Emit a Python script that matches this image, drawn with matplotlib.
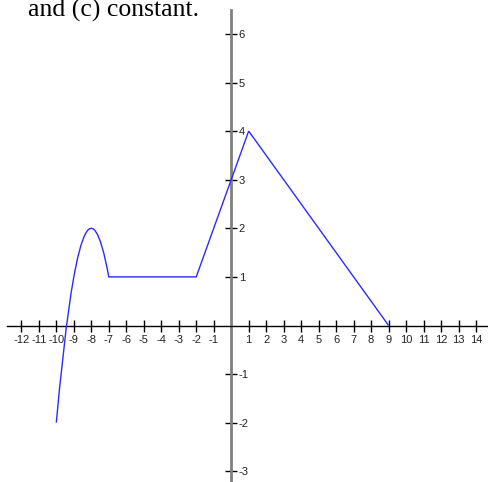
import matplotlib
matplotlib.use("Agg")
import matplotlib.pyplot as plt
from matplotlib.path import Path
from matplotlib.patches import PathPatch

## data

x_ticks = [t for t in range(-12, 15) if t != 0]
y_ticks = [t for t in range(-3, 7) if t != 0]

# piecewise graph: parabolic hump, flat step, then two straight pieces
hump_start = (-10, -2)
hump_ctrl = (-8.5, 4)      # quadratic control point, peak lands on (-8, 2)
hump_end = (-7, 1)
corners = [(-2, 1), (1, 4), (9, 0)]

caption = "and (c) constant."

## figure

W, H = 489, 482
fig = plt.figure(figsize=(W / 100, H / 100), dpi=100)
ax = fig.add_axes([0, 0, 1, 1])
ax.set_facecolor("white")

# pixel scale of the grid
x0_px, x_unit = 231.2, 17.49
y0_px, y_unit = 325.5, 48.6
ax.set_xlim(-x0_px / x_unit, (W - x0_px) / x_unit)
ax.set_ylim(-(H - y0_px) / y_unit, y0_px / y_unit)

# axes through the origin
for s in ["left", "top"]:
    ax.spines[s].set_visible(False)
ax.spines["bottom"].set_position(("data", 0))
ax.spines["bottom"].set_bounds(-12.8, 14.6)
ax.spines["bottom"].set_linewidth(1.0)
ax.spines["bottom"].set_color("black")
ax.spines["right"].set_position(("data", 0))
ax.spines["right"].set_bounds(-3.2, 6.5)
ax.spines["right"].set_linewidth(2.0)
ax.spines["right"].set_color("#808080")
ax.yaxis.tick_right()

lab = {"family": "Liberation Sans", "size": 8}
ax.set_xticks(x_ticks)
ax.set_xticklabels([str(t) for t in x_ticks], **lab)
ax.set_yticks(y_ticks)
ax.set_yticklabels([str(t) for t in y_ticks], **lab)
ax.tick_params(axis="x", direction="inout", length=9, width=1, color="black",
               pad=2, labelcolor="#222222")
ax.tick_params(axis="y", direction="inout", length=9, width=1, color="black",
               pad=1, labelcolor="#222222")

verts = [hump_start, hump_ctrl, hump_end] + corners
codes = [Path.MOVETO, Path.CURVE3, Path.CURVE3] + [Path.LINETO] * len(corners)
ax.add_patch(PathPatch(Path(verts, codes), fill=False, edgecolor="#2b2bff",
                       linewidth=1.0, zorder=3))

fig.text(28 / W, 1 - 16.7 / H, caption, family="Liberation Serif", fontsize=18.5,
         ha="left", va="baseline", color="black")

fig.savefig("out.png", dpi=100, facecolor="white")
